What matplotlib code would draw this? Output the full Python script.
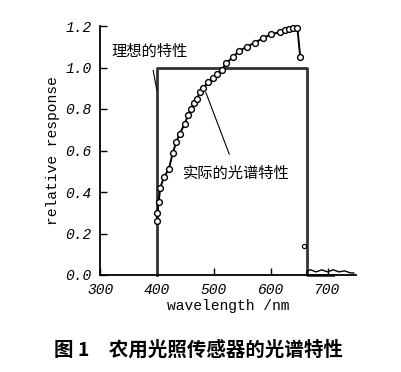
import matplotlib
matplotlib.use("Agg")
import matplotlib.pyplot as plt

# ideal (rectangular) response
ideal_nm = [400, 400, 400, 663, 663, 710]
ideal_val = [0.0, 0.0, 1.0, 1.0, 0.0, 0.0]

# measured response of the sensor
actual_nm = [400, 401, 403, 406, 412, 421, 428, 434, 440, 449, 455, 460, 465,
             470, 476, 481, 490, 498, 506, 514, 522, 533, 545, 558, 572, 586,
             600, 616, 625, 633, 640, 647, 652]
actual_val = [0.26, 0.30, 0.35, 0.42, 0.47, 0.51, 0.59, 0.64, 0.68, 0.73,
              0.77, 0.80, 0.83, 0.85, 0.88, 0.90, 0.93, 0.95, 0.97, 0.99,
              1.02, 1.05, 1.08, 1.10, 1.12, 1.14, 1.16, 1.17, 1.18, 1.185,
              1.19, 1.19, 1.05]
stray_nm = [658]
stray_val = [0.14]
tail_nm = [663, 664, 670, 680, 690, 700, 710, 720, 730, 740, 746]
tail_val = [0.0, 0.02, 0.025, 0.015, 0.025, 0.015, 0.025, 0.015, 0.02,
            0.01, 0.01]

xticks = [300, 400, 500, 600, 700]
yticks = [0.0, 0.2, 0.4, 0.6, 0.8, 1.0, 1.2]
ytick_labels = ["0.0", "0.2", "0.4", "0.6", "0.8", "1.0", "1.2"]

cjk = ["Noto Sans CJK SC", "DejaVu Sans"]
mono = "Liberation Mono"

fig = plt.figure(figsize=(4.01, 3.72), dpi=100)
ax = fig.add_axes([100 / 401, 97 / 372, 256 / 401, 249 / 372])

ax.plot(ideal_nm, ideal_val, color="#333333", lw=2.0, clip_on=False)
ax.plot(actual_nm, actual_val, color="black", lw=1.4, marker="o", ms=4.2,
        mfc="white", mec="black", mew=1.0, clip_on=False)
ax.plot(stray_nm, stray_val, ls="none", marker="o", ms=3, mfc="white",
        mec="black", mew=0.8)
ax.plot(tail_nm, tail_val, color="black", lw=1.0, clip_on=False)

ax.set_xlim(300, 750)
ax.set_ylim(0, 1.2)
ax.spines["top"].set_visible(False)
ax.spines["right"].set_visible(False)
ax.spines["left"].set_linewidth(1.3)
ax.spines["bottom"].set_linewidth(1.3)

ax.set_xticks(xticks)
ax.set_yticks(yticks)
ax.set_yticklabels(ytick_labels)
ax.tick_params(direction="in", length=5, width=1.0, labelsize=10.5, pad=6)
for lab in ax.get_xticklabels() + ax.get_yticklabels():
    lab.set_fontfamily(mono)
    lab.set_fontstyle("italic")

ax.set_xlabel("wavelength /nm", fontfamily=mono, fontsize=10.5, labelpad=1)
ax.set_ylabel("relative response", fontfamily=mono, fontsize=10.5, labelpad=4)

ax.annotate("理想的特性", xy=(400, 0.89), xytext=(387, 1.08),
            family=cjk, fontsize=11, ha="center", va="center",
            arrowprops=dict(arrowstyle="-", color="black", lw=0.8,
                            shrinkA=6, shrinkB=0))
ax.annotate("实际的光谱特性", xy=(486, 0.88), xytext=(540, 0.49),
            family=cjk, fontsize=11, ha="center", va="center",
            arrowprops=dict(arrowstyle="-", color="black", lw=0.8,
                            shrinkA=6, shrinkB=0))

fig.text(0.495, 22 / 372, "图 1　农用光照传感器的光谱特性", family=cjk,
         fontsize=14, fontweight="bold", ha="center", va="center")

fig.savefig("out.png", dpi=100)
